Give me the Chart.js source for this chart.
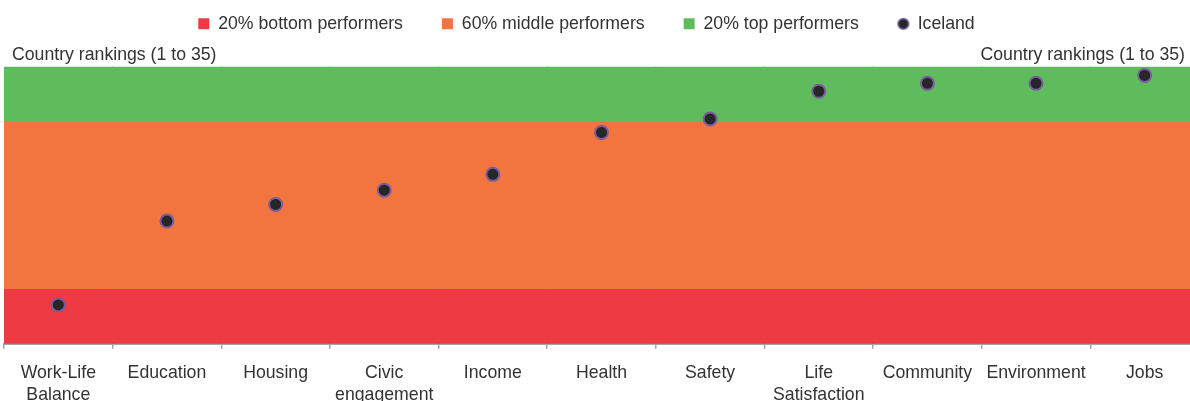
<!DOCTYPE html>
<html>
<head>
<meta charset="utf-8">
<script src="https://cdn.jsdelivr.net/npm/chart.js@4.4.1/dist/chart.umd.min.js"></script>
<style>
  html, body { margin: 0; padding: 0; background: #fff; overflow: hidden; }
  #wrap { position: relative; width: 1199px; height: 419px; }
</style>
</head>
<body>
<div id="wrap"><canvas id="chart"></canvas></div>
<script>
const categories = [['Work-Life', 'Balance'], 'Education', 'Housing', ['Civic', 'engagement'], 'Income',
  'Health', 'Safety', ['Life', 'Satisfaction'], 'Community', 'Environment', 'Jobs'];
const icelandRank = [30.1, 19.5, 17.4, 15.6, 13.6, 8.3, 6.6, 3.1, 2.1, 2.1, 1.1];
const rankRange = [0, 35];
const bottomBand = [28.2, 35];
const middleBand = [7.1, 28.2];
const topBand = [0, 7.1];
const axisCaption = 'Country rankings (1 to 35)';

const FONT = '"Liberation Sans", Arial, Helvetica, sans-serif';
const FONT_SIZE = 17.7;
const TEXT = '#333333';

// small dot used only for the legend entry of Iceland
const legendDot = document.createElement('canvas');
legendDot.width = 14;
legendDot.height = 14;
(() => {
  const c = legendDot.getContext('2d');
  c.beginPath();
  c.arc(7, 7, 5.3, 0, Math.PI * 2);
  c.fillStyle = '#262629';
  c.fill();
  c.lineWidth = 1.6;
  c.strokeStyle = '#7a5c9e';
  c.stroke();
})();

const band = (label, range, color) => ({
  type: 'bar',
  label,
  data: categories.map(() => range),
  backgroundColor: color,
  borderWidth: 0,
  inflateAmount: 0.8,
  grouped: false,
  barPercentage: 1,
  categoryPercentage: 1
});

const captions = {
  id: 'captions',
  afterLayout(chart) {
    // pull the legend row up into the top strip
    const lg = chart.legend;
    lg.top -= 24;
    lg.bottom -= 24;
    lg.left -= 15;
    lg.right -= 15;
  },
  afterDraw(chart) {
    const { ctx, chartArea } = chart;
    ctx.save();
    ctx.font = FONT_SIZE + 'px ' + FONT;
    ctx.fillStyle = TEXT;
    ctx.textBaseline = 'alphabetic';
    ctx.textAlign = 'left';
    ctx.fillText(axisCaption, chartArea.left + 8, chartArea.top - 7);
    ctx.textAlign = 'right';
    ctx.fillText(axisCaption, 1185, chartArea.top - 7);
    ctx.restore();
  }
};

new Chart(document.getElementById('chart'), {
  data: {
    labels: categories,
    datasets: [
      band('20% bottom performers', bottomBand, '#ee3a42'),
      band('60% middle performers', middleBand, '#f2743e'),
      band('20% top performers', topBand, '#5ebc5d'),
      {
        type: 'line',
        label: 'Iceland',
        data: icelandRank,
        showLine: false,
        order: -1,
        pointRadius: 6.5,
        pointHoverRadius: 6.5,
        pointBackgroundColor: '#262629',
        pointBorderColor: '#7a5c9e',
        pointBorderWidth: 2
      }
    ]
  },
  options: {
    responsive: true,
    maintainAspectRatio: false,
    animation: false,
    layout: { autoPadding: false, padding: { top: 0, left: 4, right: 0, bottom: 0 } },
    plugins: {
      tooltip: { enabled: false },
      legend: {
        position: 'top',
        labels: {
          usePointStyle: true,
          boxWidth: 11,
          boxHeight: 11,
          padding: 39,
          color: TEXT,
          font: { family: FONT, size: FONT_SIZE },
          generateLabels(chart) {
            const items = Chart.defaults.plugins.legend.labels.generateLabels(chart);
            items.forEach(it => {
              it.pointStyle = it.datasetIndex === 3 ? legendDot : 'rect';
              it.lineWidth = 0;
            });
            return items.sort((a, b) => a.datasetIndex - b.datasetIndex);
          }
        }
      }
    },
    scales: {
      x: {
        offset: true,
        grid: { display: true, drawOnChartArea: false, drawTicks: true, tickLength: 5, color: '#a3a3a3', lineWidth: 1.5, offset: true },
        border: { display: true, color: '#a3a3a3', width: 2 },
        ticks: {
          autoSkip: false,
          maxRotation: 0,
          padding: 13,
          color: TEXT,
          font: { family: FONT, size: FONT_SIZE, lineHeight: 1.25 }
        }
      },
      y: {
        display: false,
        reverse: true,
        min: rankRange[0],
        max: rankRange[1]
      }
    }
  },
  plugins: [captions]
});
</script>
</body>
</html>
